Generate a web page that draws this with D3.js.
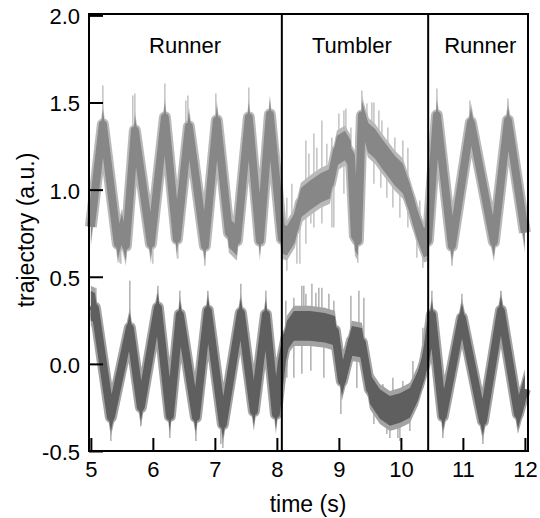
<!DOCTYPE html>
<html>
<head>
<meta charset="utf-8">
<script src="https://cdn.jsdelivr.net/npm/d3@7"></script>
<style>
  html, body { margin: 0; padding: 0; background: #fff; }
  svg { display: block; font-family: "Liberation Sans", Arial, sans-serif; }
</style>
</head>
<body>
<svg id="chart" width="540" height="518"></svg>
<script>
// ---------- data ----------
const xTicks = [5, 6, 7, 8, 9, 10, 11, 12];
const xTickLabels = ["5", "6", "7", "8", "9", "10", "11", "12"];
const yTicks = [-0.5, 0.0, 0.5, 1.0, 1.5, 2.0];
const yTickLabels = ["-0.5", "0.0", "0.5", "1.0", "1.5", "2.0"];

const phaseBounds = [8.08, 10.44];
const phaseNames = ["Runner", "Tumbler", "Runner"];
const phaseLabelT = [6.52, 9.21, 11.28];

// upper trace: centre line of the noisy band
const upperT = [5.000, 5.194, 5.435, 5.500, 5.565, 5.710, 5.968, 6.194, 6.387, 6.581, 6.839, 7.032, 7.226, 7.355, 7.548, 7.726, 7.887, 8.081, 8.161, 8.290, 8.387, 8.532, 8.710, 8.855, 8.968, 9.097, 9.194, 9.258, 9.306, 9.371, 9.468, 9.581, 9.694, 9.903, 10.032, 10.145, 10.258, 10.371, 10.435, 10.581, 10.823, 11.129, 11.500, 11.726, 12.000];
const upperV = [0.787, 1.374, 0.690, 0.776, 0.678, 1.339, 0.690, 1.414, 0.718, 1.362, 0.678, 1.397, 0.753, 0.707, 1.414, 0.707, 1.431, 0.718, 0.707, 0.782, 0.925, 0.966, 1.011, 1.034, 1.224, 1.253, 1.195, 0.736, 0.707, 1.425, 1.299, 1.264, 1.207, 1.109, 1.063, 0.948, 0.805, 0.695, 0.707, 1.425, 0.678, 1.385, 0.701, 1.397, 0.753];
// upper trace: tips of visible noise spikes
const upperSpikeT = [5.194, 5.710, 6.194, 6.565, 7.016, 7.548, 8.468, 8.597, 8.726, 9.081, 9.371, 9.532, 10.581, 11.113, 11.726,
  8.161, 8.242, 8.516, 8.645, 8.806, 8.887, 9.000, 9.113, 9.194, 9.452, 9.565, 9.645, 9.694, 9.790, 9.903, 10.032, 10.113, 10.306,
  5.548, 5.677, 6.532, 7.323,
  8.919, 8.371, 8.548, 9.306, 5.484, 6.839, 10.823, 10.435,
  8.161, 8.323, 8.468, 8.597, 8.726, 8.887, 9.081, 9.565, 9.677, 9.774, 9.871, 9.984, 10.113, 10.258, 10.355,
  5.468, 6.000, 6.403];
const upperSpikeV = [1.598, 1.552, 1.609, 1.540, 1.552, 1.586, 1.282, 1.322, 1.397, 1.454, 1.569, 1.500, 1.580, 1.511, 1.523,
  0.954, 1.034, 1.207, 1.241, 1.264, 1.299, 1.437, 1.466, 1.356, 1.494, 1.500, 1.454, 1.397, 1.356, 1.299, 1.282, 1.241, 0.937,
  0.977, 1.540, 1.511, 0.879,
  0.782, 0.575, 0.805, 0.580, 0.575, 0.563, 0.563, 0.546,
  0.534, 0.575, 0.690, 0.782, 0.805, 0.782, 0.977, 1.034, 1.011, 0.954, 0.897, 0.839, 0.782, 0.609, 0.552,
  0.580, 0.575, 0.603];

// lower trace: centre line of the noisy band
const lowerT = [5.000, 5.065, 5.323, 5.629, 5.806, 6.081, 6.274, 6.435, 6.694, 6.887, 7.129, 7.419, 7.629, 7.823, 7.984, 8.081, 8.161, 8.274, 8.532, 8.774, 8.935, 9.048, 9.210, 9.371, 9.500, 9.661, 9.823, 9.984, 10.145, 10.274, 10.387, 10.435, 10.500, 10.677, 10.984, 11.323, 11.613, 11.887, 12.000];
const lowerV = [0.333, 0.322, -0.305, 0.207, -0.247, 0.322, -0.299, 0.282, -0.305, 0.305, -0.345, 0.293, -0.270, 0.282, -0.287, 0.017, 0.161, 0.218, 0.218, 0.207, 0.190, -0.098, 0.132, 0.121, -0.144, -0.230, -0.270, -0.253, -0.224, -0.126, 0.006, 0.103, 0.282, -0.299, 0.264, -0.328, 0.305, -0.287, -0.144];
// lower trace: tips of visible noise spikes
const lowerSpikeT = [5.629, 6.081, 6.435, 6.887, 7.419, 7.823, 8.274, 8.435, 8.565, 8.677, 9.194, 9.323, 10.500, 10.984, 11.613,
  8.145, 8.403, 8.468, 8.629, 8.726, 8.839, 8.919, 9.403, 9.710, 9.871, 10.032, 10.194, 10.355, 5.081,
  8.758, 8.274, 5.323, 7.129, 9.823, 9.984, 11.323, 10.677, 6.274, 6.694, 9.032,
  8.161, 8.403, 8.548, 8.919, 9.290, 9.565, 9.774, 9.952, 10.145, 5.806, 7.097];
const lowerSpikeV = [0.477, 0.448, 0.420, 0.420, 0.460, 0.420, 0.379, 0.448, 0.460, 0.437, 0.391, 0.420, 0.420, 0.402, 0.420,
  0.362, 0.448, 0.402, 0.408, 0.437, 0.402, 0.362, 0.379, -0.115, -0.080, -0.098, 0.017, 0.207, 0.437,
  -0.080, -0.080, -0.443, -0.483, -0.425, -0.443, -0.460, -0.425, -0.425, -0.443, -0.287,
  -0.080, -0.057, -0.040, 0.017, -0.138, -0.345, -0.402, -0.425, -0.385, -0.356, -0.460];

// ---------- layout ----------
const svg = d3.select("#chart");
const x = d3.scaleLinear().domain([4.97, 12.05]).range([89, 528]);
const y = d3.scaleLinear().domain([-0.5, 2.008]).range([451, 14]);

const traces = [
  { t: upperT, v: upperV, st: upperSpikeT, sv: upperSpikeV, core: "#878787", halo: "#b9b9b9" },
  { t: lowerT, v: lowerV, st: lowerSpikeT, sv: lowerSpikeV, core: "#5f5f5f", halo: "#a3a3a3" }
];

const gData = svg.append("g");
traces.forEach(tr => {
  const pts = tr.t.map((t, i) => [t, tr.v[i]]);
  const interp = t => {
    for (let i = 1; i < tr.t.length; i++) {
      if (t <= tr.t[i]) {
        const f = (t - tr.t[i - 1]) / (tr.t[i] - tr.t[i - 1]);
        return tr.v[i - 1] + f * (tr.v[i] - tr.v[i - 1]);
      }
    }
    return tr.v[tr.v.length - 1];
  };
  const band = w => d3.area().x(d => x(d[0])).y0(d => y(d[1] - w)).y1(d => y(d[1] + w));
  const line = d3.line().x(d => x(d[0])).y(d => y(d[1]));

  // halo (light noise)
  gData.append("path").attr("d", band(0.115)(pts)).attr("fill", tr.halo);
  gData.append("path").attr("d", line(pts)).attr("fill", "none")
    .attr("stroke", tr.halo).attr("stroke-width", 12).attr("stroke-linejoin", "round");
  // spikes
  gData.selectAll(null).data(tr.st.map((t, i) => [t, tr.sv[i]])).enter().append("line")
    .attr("x1", d => x(d[0])).attr("x2", d => x(d[0]))
    .attr("y1", d => y(interp(d[0]))).attr("y2", d => y(d[1]))
    .attr("stroke", tr.halo).attr("stroke-width", 1.3);
  // core
  gData.append("path").attr("d", band(0.085)(pts)).attr("fill", tr.core);
  gData.append("path").attr("d", line(pts)).attr("fill", "none")
    .attr("stroke", tr.core).attr("stroke-width", 8).attr("stroke-linejoin", "round");
});

// phase separators
svg.selectAll(".sep").data(phaseBounds).enter().append("line")
  .attr("x1", d => x(d)).attr("x2", d => x(d))
  .attr("y1", y.range()[1]).attr("y2", y.range()[0])
  .attr("stroke", "#000").attr("stroke-width", 2);

// phase labels
svg.selectAll(".phase").data(phaseNames).enter().append("text")
  .attr("x", (d, i) => x(phaseLabelT[i])).attr("y", 53)
  .attr("text-anchor", "middle").attr("font-size", 22).attr("fill", "#000")
  .text(d => d);

// axes
const xAxis = d3.axisBottom(x).tickValues(xTicks)
  .tickFormat((d, i) => xTickLabels[i]).tickSizeInner(-13).tickSizeOuter(0).tickPadding(10);
const gx = svg.append("g").attr("transform", "translate(0,451)").call(xAxis);
gx.select(".domain").remove();
gx.selectAll(".tick line").attr("stroke", "#000").attr("stroke-width", 2);
gx.selectAll(".tick text").attr("font-size", 22).attr("fill", "#000")
  .attr("font-family", "Liberation Sans, Arial, sans-serif");

const yAxis = d3.axisLeft(y).tickValues(yTicks)
  .tickFormat((d, i) => yTickLabels[i]).tickSizeInner(-14).tickSizeOuter(0).tickPadding(9);
const gy = svg.append("g").attr("transform", "translate(89,0)").call(yAxis);
gy.select(".domain").remove();
gy.selectAll(".tick line").attr("stroke", "#000").attr("stroke-width", 2);
gy.selectAll(".tick text").attr("font-size", 22).attr("fill", "#000").attr("dy", "0.38em")
  .attr("font-family", "Liberation Sans, Arial, sans-serif");

// frame
svg.append("rect")
  .attr("x", x.range()[0]).attr("y", y.range()[1])
  .attr("width", x.range()[1] - x.range()[0]).attr("height", y.range()[0] - y.range()[1])
  .attr("fill", "none").attr("stroke", "#000").attr("stroke-width", 2);

// axis titles
svg.append("text").attr("x", 308).attr("y", 512).attr("text-anchor", "middle")
  .attr("font-size", 23).attr("fill", "#000").text("time (s)");
svg.append("text").attr("transform", "translate(34,230) rotate(-90)")
  .attr("text-anchor", "middle").attr("font-size", 23).attr("fill", "#000")
  .text("trajectory (a.u.)");
</script>
</body>
</html>
